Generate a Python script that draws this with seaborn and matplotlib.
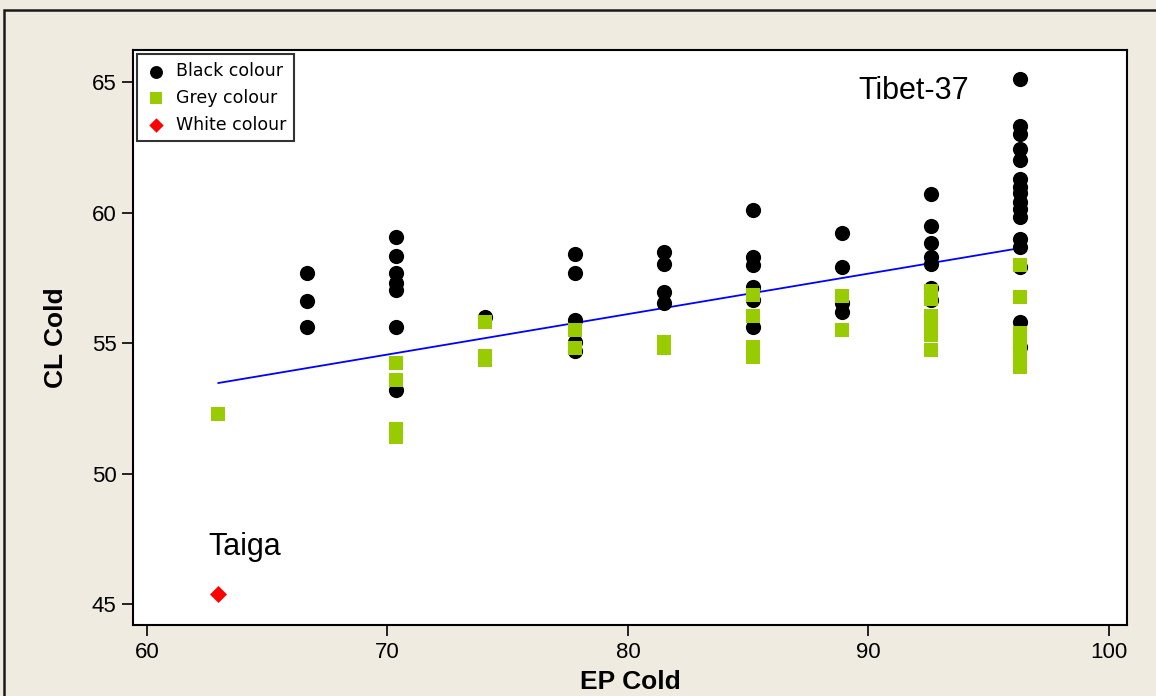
import numpy as np
import pandas as pd
import matplotlib
matplotlib.use("Agg")
import matplotlib.pyplot as plt
import seaborn as sns
from matplotlib.patches import Rectangle

# ---- data ----
black_x = ([66.67] * 3 + [70.37] * 7 + [74.07] * 1 + [77.78] * 5 + [81.48] * 4 +
           [85.19] * 6 + [88.89] * 4 + [92.59] * 7 + [96.30] * 16)
black_y = [57.7, 56.6, 55.6,
           59.05, 58.35, 57.7, 57.3, 57.05, 55.6, 53.2,
           56.0,
           58.4, 57.7, 55.9, 55.05, 54.7,
           58.5, 58.05, 56.95, 56.55,
           60.1, 58.3, 58.0, 57.15, 56.65, 55.6,
           59.2, 57.9, 56.55, 56.2,
           60.7, 59.5, 58.85, 58.3, 58.05, 57.1, 56.65,
           65.1, 63.3, 63.0, 62.45, 62.0, 61.3, 61.0, 60.75, 60.4, 60.15, 59.85,
           59.0, 58.7, 57.9, 55.8, 54.85]

grey_x = ([62.96] * 1 + [70.37] * 4 + [74.07] * 3 + [77.78] * 2 + [81.48] * 2 +
          [85.19] * 4 + [88.89] * 2 + [92.59] * 6 + [96.30] * 6)
grey_y = [52.3,
          54.25, 53.6, 51.7, 51.4,
          55.8, 54.5, 54.35,
          55.5, 54.8,
          55.05, 54.8,
          56.85, 56.05, 54.85, 54.45,
          56.8, 55.5,
          57.0, 56.7, 56.05, 55.7, 55.3, 54.75,
          58.0, 56.75, 55.4, 55.05, 54.6, 54.1]

white_x = [62.96]
white_y = [45.4]

# fitted regression line endpoints
fit_x = [62.96, 96.30]
fit_y = [53.47, 58.64]

x_ticks = [60, 70, 80, 90, 100]
y_ticks = [45, 50, 55, 60, 65]

annotations = [("Tibet-37", 89.6, 64.66), ("Taiga", 62.55, 47.2)]

# ---- figure ----
sns.set_theme(style="white")
plt.rcParams['font.family'] = ['Liberation Sans', 'DejaVu Sans']

bg = '#EFEBE0'
fig = plt.figure(figsize=(11.56, 6.96), dpi=100, facecolor=bg)
ax = fig.add_axes([133 / 1156, 1 - 625 / 696, (1127 - 133) / 1156, (625 - 50) / 696])
ax.set_facecolor('white')

# outer border
fig.patches.append(Rectangle((4 / 1156, -0.05), 1.2, 1 - 10 / 696 + 0.05,
                             transform=fig.transFigure, fill=False,
                             edgecolor='#1a1a1a', linewidth=1.8, zorder=0))

line_df = pd.DataFrame({"x": fit_x, "y": fit_y})
sns.lineplot(data=line_df, x="x", y="y", ax=ax, color='#0000FF', lw=1.3, zorder=1)

sns.scatterplot(x=black_x, y=black_y, ax=ax, color='black', marker='o', s=120,
                linewidth=0, label='Black colour', zorder=2)
sns.scatterplot(x=grey_x, y=grey_y, ax=ax, color='#99CC00', marker='s', s=110,
                linewidth=0, label='Grey colour', zorder=3)
sns.scatterplot(x=white_x, y=white_y, ax=ax, color='#FF0000', marker='D', s=75,
                linewidth=0, label='White colour', zorder=4)

ax.set_xlim(59.42, 100.75)
ax.set_ylim(44.2, 66.23)
ax.set_xticks(x_ticks)
ax.set_yticks(y_ticks)
ax.tick_params(axis='both', which='major', direction='out', length=8, width=1.2,
               color='black', labelsize=16, labelcolor='black', pad=4,
               bottom=True, left=True)
for sp in ax.spines.values():
    sp.set_color('black')
    sp.set_linewidth(1.5)

ax.set_xlabel('EP Cold', fontsize=19, fontweight='bold', labelpad=5, color='black')
ax.set_ylabel('CL Cold', fontsize=19, fontweight='bold', labelpad=17, color='black')

for txt, tx, ty in annotations:
    ax.text(tx, ty, txt, fontsize=22, ha='left', va='center', color='black')

leg = ax.legend(loc='upper left', frameon=True, fancybox=False, borderaxespad=0.25,
                prop={'family': 'DejaVu Sans', 'size': 12.5}, handletextpad=0.55,
                borderpad=0.45, labelspacing=0.5, handlelength=1.2, markerscale=0.85)
leg.get_frame().set_edgecolor('black')
leg.get_frame().set_linewidth(1.5)
for t in leg.get_texts():
    t.set_color('black')

fig.savefig('out.png', dpi=100, facecolor=bg)
